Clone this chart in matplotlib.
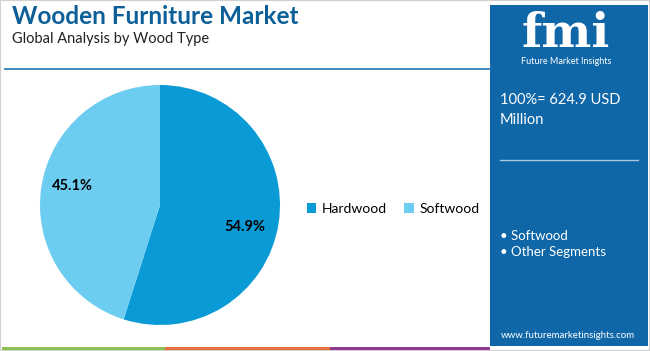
import matplotlib
matplotlib.use("Agg")
import matplotlib.pyplot as plt
from matplotlib.patches import Rectangle

# data
labels = ["Hardwood", "Softwood"]
shares = [54.9, 45.1]
colors = ["#0a9ad6", "#6dcdf1"]
total_text = "100%= 624.9 USD\nMillion"
segments = ["Softwood", "Other Segments"]

W, H = 650, 351
fig = plt.figure(figsize=(W / 100, H / 100), dpi=100)
plt.rcParams["font.family"] = ["Lato", "DejaVu Sans"]


def fx(x):
    return x / W


def fy(y):
    return 1 - y / H


# outer frame
fig.patches.append(Rectangle((0, 0), 1, 1, transform=fig.transFigure,
                             fill=False, edgecolor="#d0d0d0", lw=1.5))

# titles
fig.text(fx(12), fy(17), "Wooden Furniture Market", fontsize=17.5, fontweight="bold",
         color="#0d5f98", va="center", ha="left")
fig.text(fx(12), fy(39), "Global Analysis by Wood Type", fontsize=10.5,
         color="#222222", va="center", ha="left")
fig.add_artist(plt.Line2D([fx(5), fx(490)], [fy(69), fy(69)], color="#2f80b8", lw=1.3))

# bottom coloured strip
for x0, x1, c in [(2, 165, "#8cc04f"), (165, 330, "#e8703a"), (330, 490, "#8e3a91")]:
    fig.patches.append(Rectangle((fx(x0), fy(350)), fx(x1 - x0), 3.5 / H,
                                 transform=fig.transFigure, color=c, lw=0))

# right panel
fig.patches.append(Rectangle((fx(490), fy(346)), fx(158), 341 / H,
                             transform=fig.transFigure, color="#0f67a8", lw=0))
fig.text(fx(566), fy(34), "fmi", fontsize=34, fontweight="bold", family="DejaVu Serif",
         color="white", ha="center", va="center")
fig.text(fx(566), fy(61), "Future Market Insights", fontsize=6.5, color="white",
         ha="center", va="center")
fig.text(fx(500), fy(110), total_text, fontsize=10.5, color="white", ha="left",
         va="center", linespacing=1.55)
fig.add_artist(plt.Line2D([fx(500), fx(638)], [fy(160), fy(160)], color="#a9c8e2", lw=1))
fig.text(fx(500), fy(244), "\n".join("\u2022 " + s for s in segments), fontsize=9.5,
         color="white", ha="left", va="center", linespacing=1.5)
fig.text(fx(568), fy(336), "www.futuremarketinsights.com", fontsize=7,
         color="white", ha="center", va="center")

# pie
r = 120
ax = fig.add_axes([fx(160 - r), fy(205 + r), fx(2 * r), 2 * r / H])
wedges, _ = ax.pie(shares, colors=colors, startangle=90, counterclock=False,
                   wedgeprops=dict(lw=0))
ax.set_xlim(-1, 1)
ax.set_ylim(-1, 1)
ax.set_aspect("equal")
ax.text(0.71, -0.18, f"{shares[0]}%", fontsize=10.5, fontweight="bold",
        ha="center", va="center")
ax.text(-0.73, 0.16, f"{shares[1]}%", fontsize=10.5, fontweight="bold",
        ha="center", va="center")

# legend
fig.legend(wedges, labels, loc="center", bbox_to_anchor=(fx(393), fy(209)), ncol=2,
           frameon=False, fontsize=10, handlelength=0.7, handleheight=0.7,
           handletextpad=0.4, columnspacing=1.2)

fig.savefig("out.png", dpi=100)
